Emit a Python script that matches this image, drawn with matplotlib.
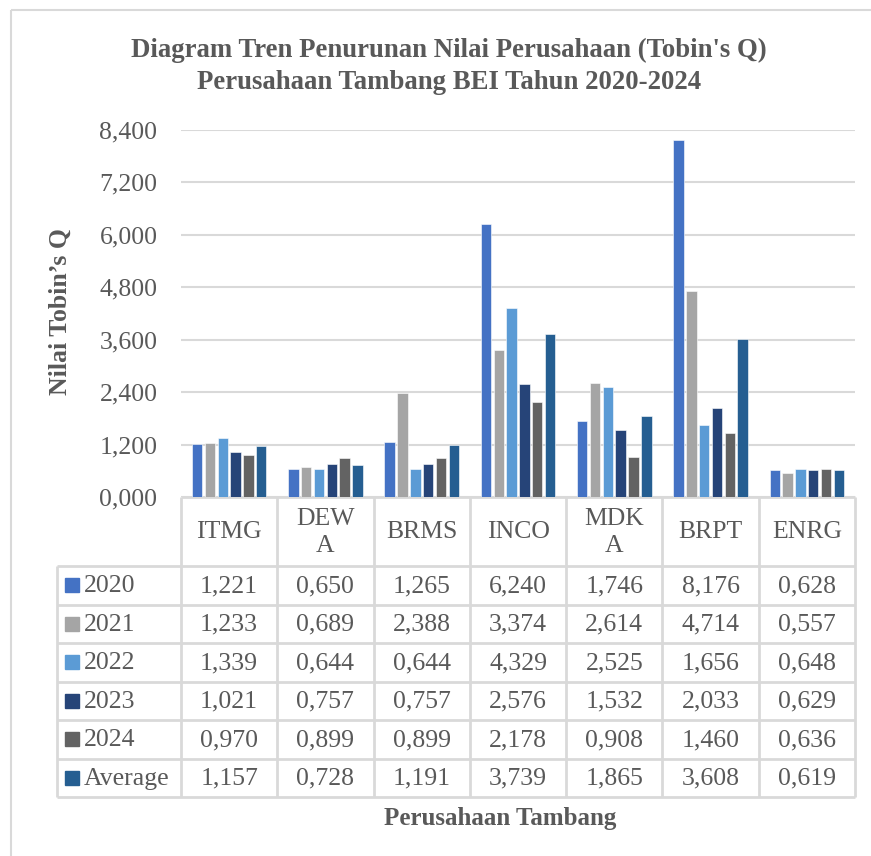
import matplotlib
matplotlib.use("Agg")
import matplotlib.pyplot as plt
import numpy as np
from matplotlib.patches import Rectangle

plt.rcParams['font.family'] = ['Liberation Serif', 'DejaVu Serif']

categories = ["ITMG", "DEWA", "BRMS", "INCO", "MDKA", "BRPT", "ENRG"]
header_labels = ["ITMG", "DEW\nA", "BRMS", "INCO", "MDK\nA", "BRPT", "ENRG"]
series_names = ["2020", "2021", "2022", "2023", "2024", "Average"]
v2020 = [1.221, 0.650, 1.265, 6.240, 1.746, 8.176, 0.628]
v2021 = [1.233, 0.689, 2.388, 3.374, 2.614, 4.714, 0.557]
v2022 = [1.339, 0.644, 0.644, 4.329, 2.525, 1.656, 0.648]
v2023 = [1.021, 0.757, 0.757, 2.576, 1.532, 2.033, 0.629]
v2024 = [0.970, 0.899, 0.899, 2.178, 0.908, 1.460, 0.636]
vavg = [1.157, 0.728, 1.191, 3.739, 1.865, 3.608, 0.619]
series_values = [v2020, v2021, v2022, v2023, v2024, vavg]
colors = ["#4472C4", "#A5A5A5", "#5B9BD5", "#264478", "#636363", "#255E91"]
yticks = [0, 1.2, 2.4, 3.6, 4.8, 6.0, 7.2, 8.4]
title_lines = ["Diagram Tren Penurunan Nilai Perusahaan (Tobin's Q)",
               "Perusahaan Tambang BEI Tahun 2020-2024"]

W, H = 871, 856
TXT = "#595959"
GRID = "#D9D9D9"
fs = 18.5

def fmt(v):
    return f"{v:.3f}".replace(".", ",")

fig = plt.figure(figsize=(W / 100, H / 100), dpi=100)

# overlay for pixel-positioned layout (border, table)
ov = fig.add_axes([0, 0, 1, 1], zorder=0)
ov.set_xlim(0, W)
ov.set_ylim(H, 0)
ov.axis("off")
ov.add_patch(Rectangle((11, 10), W + 40, H + 40, fill=False, edgecolor=GRID, lw=1.5))

# bar axes
pl, pr, pt, pb = 181, 855, 130, 497
ax = fig.add_axes([pl / W, 1 - pb / H, (pr - pl) / W, (pb - pt) / H], zorder=1)
ax.patch.set_alpha(0)
x = np.arange(len(categories))
pitch = 0.133
bw = 0.108
for i, (vals, c) in enumerate(zip(series_values, colors)):
    ax.bar(x + (i - 2.5) * pitch, vals, width=bw, color=c, edgecolor="white", lw=0.4, zorder=3)
ax.set_xlim(-0.5, len(categories) - 0.5)
ax.set_ylim(0, 8.4)
ax.set_yticks(yticks)
ax.set_yticklabels([fmt(t) for t in yticks], fontsize=fs, color=TXT)
ax.tick_params(axis="y", length=0, pad=17)
ax.set_xticks([])
for s in ax.spines.values():
    s.set_visible(False)
ax.yaxis.grid(True, color=GRID, lw=1.5, zorder=0)
ax.set_axisbelow(True)

# data table
tl = 57
col_w = (pr - pl) / len(categories)
hdr_top, hdr_bot = pb, 566
row_h = 38.5
rows_bot = hdr_bot + row_h * len(series_names)
lk = dict(color=GRID, lw=2, solid_capstyle="butt")
ov.plot([pl, pr], [hdr_top, hdr_top], **lk)
for r in range(len(series_names) + 1):
    y = hdr_bot + r * row_h
    ov.plot([tl, pr], [y, y], **lk)
ov.plot([tl, tl], [hdr_bot, rows_bot], **lk)
for k in range(len(categories) + 1):
    xx = pl + k * col_w
    ov.plot([xx, xx], [hdr_top, rows_bot], **lk)

for k, lab in enumerate(header_labels):
    cx = pl + (k + 0.5) * col_w
    ov.text(cx, (hdr_top + hdr_bot) / 2 + 1, lab, ha="center", va="center",
            fontsize=fs, color=TXT, linespacing=1.35)
for r, (name, vals, c) in enumerate(zip(series_names, series_values, colors)):
    cy = hdr_bot + (r + 0.5) * row_h
    ov.add_patch(Rectangle((65, cy - 7), 14, 14, color=c))
    ov.text(84, cy + 1, name, ha="left", va="center", fontsize=fs, color=TXT)
    for k, v in enumerate(vals):
        cx = pl + (k + 0.5) * col_w
        ov.text(cx, cy + 1, fmt(v), ha="center", va="center", fontsize=fs, color=TXT)

# titles
for line, base in zip(title_lines, [57, 89]):
    ov.text(449, base, line, ha="center", va="baseline", fontsize=19.3,
            fontweight="bold", color=TXT)
fig.text(60 / W, 1 - 312 / H, "Nilai Tobin\u2019s Q", rotation=90, ha="center", va="center",
         fontsize=fs, fontweight="bold", color=TXT)
fig.text(500 / W, 1 - 818 / H, "Perusahaan Tambang", ha="center", va="center",
         fontsize=18, fontweight="bold", color=TXT)

fig.savefig("out.png", dpi=100, facecolor="white")
